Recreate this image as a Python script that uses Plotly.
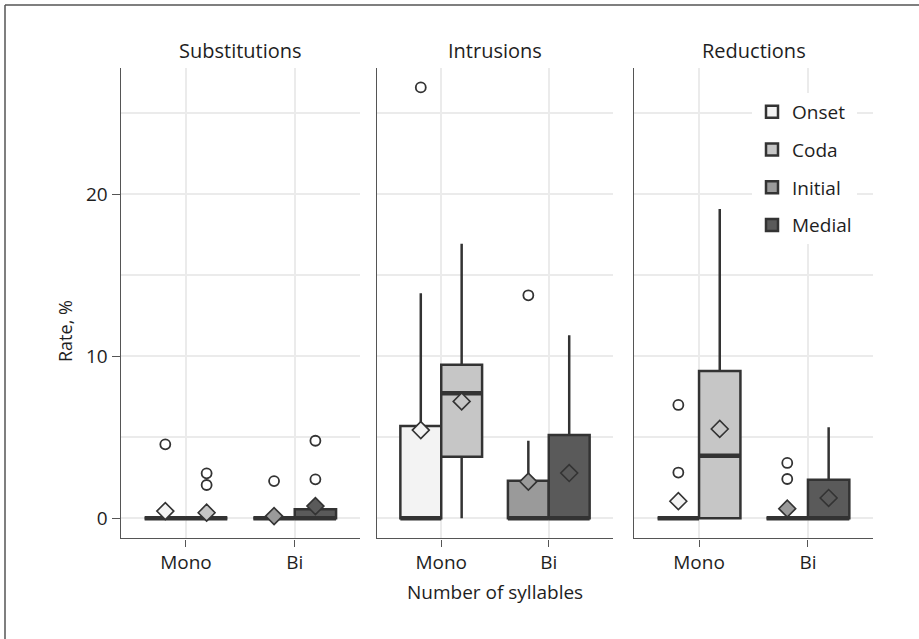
import plotly.graph_objects as go

# ---------------- data ----------------
panels = ["Substitutions", "Intrusions", "Reductions"]
groups = ["Onset", "Coda", "Initial", "Medial"]
group_syllables = ["Mono", "Mono", "Bi", "Bi"]
syllable_labels = ["Mono", "Bi"]
y_tick_values = [0, 10, 20]
y_minor_values = [5, 15, 25]

# per panel (Substitutions, Intrusions, Reductions), per group (Onset, Coda, Initial, Medial)
q1_values = [[0, 0, 0, 0], [0, 3.8, 0, 0], [0, 0, 0, 0]]
median_values = [[0, 0, 0, 0], [0, 7.73, 0, 0], [0, 3.86, 0, 0]]
q3_values = [[0, 0, 0, 0.57], [5.7, 9.49, 2.32, 5.14], [0, 9.1, 0, 2.38]]
lower_values = [[0, 0, 0, 0], [0, 0, 0, 0], [0, 0, 0, 0]]
upper_values = [[0, 0, 0, 0.57], [13.9, 16.95, 4.79, 11.3], [0, 19.1, 0, 5.63]]
mean_values = [[0.45, 0.35, 0.14, 0.76], [5.45, 7.22, 2.27, 2.8], [1.06, 5.52, 0.6, 1.26]]
outlier_values = [
    [[4.57], [2.78, 2.06], [2.3], [4.79, 2.41]],
    [[26.6], [], [13.77], []],
    [[2.83, 7.0], [], [3.42, 2.43], []],
]

# ---------------- style ----------------
group_colors = ["#f3f3f3", "#c6c6c6", "#9a9a9a", "#5a5a5a"]
group_dodge = [-0.19, 0.19, -0.19, 0.19]
box_width = 0.38
line_col = "#333333"
axis_col = "#555555"
grid_col = "#ebebeb"
text_col = "#1e1e1e"
FONT = "Open Sans"
W, H = 919, 639

x_domains = [(120.7, 360.0), (376.7, 613.3), (633.7, 873.3)]
y_domain = (1 - 538.3 / H, 1 - 68.0 / H)

fig = go.Figure()

for p, panel in enumerate(panels):
    xa = "x" if p == 0 else f"x{p+1}"
    ya = "y" if p == 0 else f"y{p+1}"
    for g, grp in enumerate(groups):
        pos = syllable_labels.index(group_syllables[g]) + 1 + group_dodge[g]
        fig.add_trace(go.Box(
            x=[pos], q1=[q1_values[p][g]], median=[median_values[p][g]],
            q3=[q3_values[p][g]], lowerfence=[lower_values[p][g]],
            upperfence=[upper_values[p][g]],
            width=box_width, whiskerwidth=0, boxpoints=False,
            fillcolor=group_colors[g], line=dict(color=line_col, width=2.5),
            name=grp, legendgroup=grp, showlegend=(p == 2),
            xaxis=xa, yaxis=ya, hoverinfo="skip",
        ))
        # thicker median line
        fig.add_trace(go.Scatter(
            x=[pos - box_width / 2, pos + box_width / 2],
            y=[median_values[p][g], median_values[p][g]],
            mode="lines", line=dict(color=line_col, width=4.5),
            showlegend=False, xaxis=xa, yaxis=ya, hoverinfo="skip",
        ))
    # outliers
    ox, oy = [], []
    for g in range(len(groups)):
        pos = syllable_labels.index(group_syllables[g]) + 1 + group_dodge[g]
        for v in outlier_values[p][g]:
            ox.append(pos)
            oy.append(v)
    fig.add_trace(go.Scatter(
        x=ox, y=oy, mode="markers",
        marker=dict(symbol="circle", size=10, color="white",
                    line=dict(color=line_col, width=1.8)),
        showlegend=False, xaxis=xa, yaxis=ya, hoverinfo="skip",
    ))
    # means
    mx = [syllable_labels.index(group_syllables[g]) + 1 + group_dodge[g] for g in range(len(groups))]
    fig.add_trace(go.Scatter(
        x=mx, y=mean_values[p], mode="markers",
        marker=dict(symbol="diamond", size=13, color=group_colors,
                    line=dict(color=line_col, width=1.6)),
        showlegend=False, xaxis=xa, yaxis=ya, hoverinfo="skip",
    ))

layout = dict(
    width=W, height=H,
    margin=dict(l=0, r=0, t=0, b=0),
    paper_bgcolor="white", plot_bgcolor="white",
    font=dict(family=FONT, size=19, color=text_col),
    showlegend=True,
    legend=dict(x=752 / W, y=1 - 93 / H, xanchor="left", yanchor="top",
                bgcolor="white", font=dict(size=19, color=text_col),
                traceorder="grouped", tracegroupgap=10,
                itemwidth=30),
)

for p in range(3):
    xk = "xaxis" if p == 0 else f"xaxis{p+1}"
    yk = "yaxis" if p == 0 else f"yaxis{p+1}"
    layout[xk] = dict(
        domain=[x_domains[p][0] / W, x_domains[p][1] / W],
        anchor="y" if p == 0 else f"y{p+1}",
        range=[0.4, 2.6], tickvals=[1, 2], ticktext=syllable_labels,
        showgrid=True, gridcolor=grid_col, gridwidth=2,
        showline=True, linecolor=axis_col, linewidth=1.4,
        ticks="outside", ticklen=7, tickcolor=axis_col, tickwidth=1.2,
        zeroline=False, tickfont=dict(size=19, color=text_col),
    )
    layout[yk] = dict(
        domain=list(y_domain),
        anchor="x" if p == 0 else f"x{p+1}",
        range=[-1.23, 27.8], tickvals=y_tick_values,
        showticklabels=(p == 0),
        ticks="outside" if p == 0 else "", ticklen=8, tickcolor=axis_col, tickwidth=1.2,
        showgrid=True, gridcolor=grid_col, gridwidth=2,
        minor=dict(tickvals=y_minor_values, showgrid=True, gridcolor=grid_col, gridwidth=2),
        showline=True, linecolor=axis_col, linewidth=1.4,
        zeroline=False, tickfont=dict(size=19, color=text_col),
    )
    if p > 0:
        layout[yk]["matches"] = "y"

fig.update_layout(**layout)

# panel titles
for p, panel in enumerate(panels):
    fig.add_annotation(
        text=panel, xref="paper", yref="paper",
        x=(x_domains[p][0] + x_domains[p][1]) / 2 / W, y=1 - 50 / H,
        xanchor="center", yanchor="middle", showarrow=False,
        font=dict(size=20, color=text_col),
    )

# axis titles
fig.add_annotation(text="Number of syllables", xref="paper", yref="paper",
                   x=(x_domains[1][0] + x_domains[1][1]) / 2 / W, y=1 - 592 / H,
                   xanchor="center", yanchor="middle", showarrow=False,
                   font=dict(size=19, color=text_col))
fig.add_annotation(text="Rate, %", xref="paper", yref="paper",
                   x=65 / W, y=1 - 331 / H, textangle=-90,
                   xanchor="center", yanchor="middle", showarrow=False,
                   font=dict(size=18, color=text_col))

# outer frame (top and left edges visible)
fig.add_shape(type="line", xref="paper", yref="paper",
              x0=5 / W, x1=1, y0=1 - 5 / H, y1=1 - 5 / H,
              line=dict(color=axis_col, width=1.5))
fig.add_shape(type="line", xref="paper", yref="paper",
              x0=5 / W, x1=5 / W, y0=0, y1=1 - 5 / H,
              line=dict(color=axis_col, width=1.5))

fig.write_html("out.html")
